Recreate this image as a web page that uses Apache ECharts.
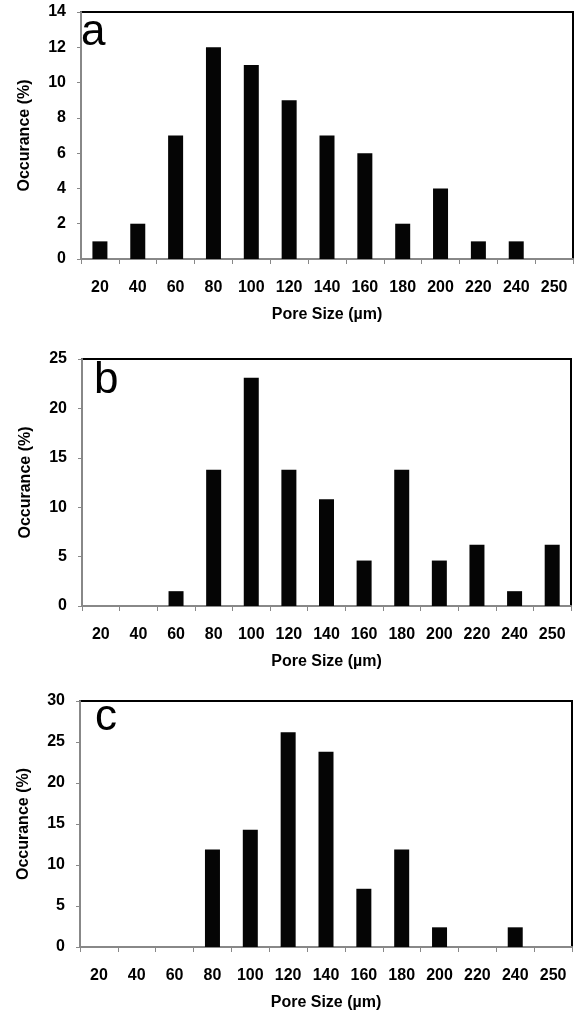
<!DOCTYPE html>
<html>
<head>
<meta charset="utf-8">
<script src="https://cdn.jsdelivr.net/npm/echarts@6/dist/echarts.min.js"></script>
<style>
  html, body { margin: 0; padding: 0; background: #fff; }
  #chart { width: 579px; height: 1023px; }
</style>
</head>
<body>
<div id="chart"></div>
<script>
// pore size bins shared by the three panels
const poreSizes = ['20', '40', '60', '80', '100', '120', '140', '160', '180', '200', '220', '240', '250'];

// occurance (%) per bin
const occA = [1, 2, 7, 12, 11, 9, 7, 6, 2, 4, 1, 1, 0];
const occB = [0, 0, 1.5, 13.8, 23.1, 13.8, 10.8, 4.6, 13.8, 4.6, 6.2, 1.5, 6.2];
const occC = [0, 0, 0, 11.9, 14.3, 26.2, 23.8, 7.1, 11.9, 2.4, 0, 2.4, 0];

const yMax = [14, 25, 30];
const yStep = [2, 5, 5];
const panelLetters = ['a', 'b', 'c'];

const FONT = '"Liberation Sans", Arial, sans-serif';

const grids = [
  { left: 81, top: 12, right: 6, height: 247 },
  { left: 82, top: 359, right: 8, height: 247 },
  { left: 80, top: 701, right: 7, height: 246 }
];
const letterPos = [[81, 11], [94, 359], [95, 696]];

const chart = echarts.init(document.getElementById('chart'));

const option = {
  animation: false,
  backgroundColor: '#fff',
  title: panelLetters.map((t, i) => ({
    text: t,
    left: letterPos[i][0],
    top: letterPos[i][1],
    padding: 0,
    textStyle: { fontFamily: FONT, fontWeight: 'normal', fontSize: 44, color: '#000' }
  })),
  grid: grids.map(g => ({
    ...g,
    show: true,
    borderColor: '#000',
    borderWidth: 2,
    backgroundColor: '#fff'
  })),
  xAxis: grids.map((g, i) => ({
    type: 'category',
    gridIndex: i,
    data: poreSizes,
    name: 'Pore Size (µm)',
    nameLocation: 'middle',
    nameGap: 48,
    nameTextStyle: { fontFamily: FONT, fontWeight: 'bold', fontSize: 16, color: '#000' },
    axisLine: { lineStyle: { color: '#888', width: 2 } },
    axisTick: { show: true, length: 5, lineStyle: { color: '#888', width: 1 } },
    axisLabel: { margin: 21, fontFamily: FONT, fontWeight: 'bold', fontSize: 16, color: '#000' }
  })),
  yAxis: grids.map((g, i) => ({
    type: 'value',
    gridIndex: i,
    min: 0,
    max: yMax[i],
    interval: yStep[i],
    name: 'Occurance (%)',
    nameLocation: 'middle',
    nameGap: 48,
    nameTextStyle: { fontFamily: FONT, fontWeight: 'bold', fontSize: 16, color: '#000' },
    axisLine: { show: true, lineStyle: { color: '#888', width: 2 } },
    axisTick: { show: true, length: 4, lineStyle: { color: '#888', width: 1 } },
    axisLabel: { margin: 15, fontFamily: FONT, fontWeight: 'bold', fontSize: 16, color: '#000' },
    splitLine: { show: false }
  })),
  series: [occA, occB, occC].map((d, i) => ({
    type: 'bar',
    xAxisIndex: i,
    yAxisIndex: i,
    data: d,
    barWidth: 15,
    itemStyle: { color: '#050505' }
  }))
};

chart.setOption(option);
</script>
</body>
</html>
